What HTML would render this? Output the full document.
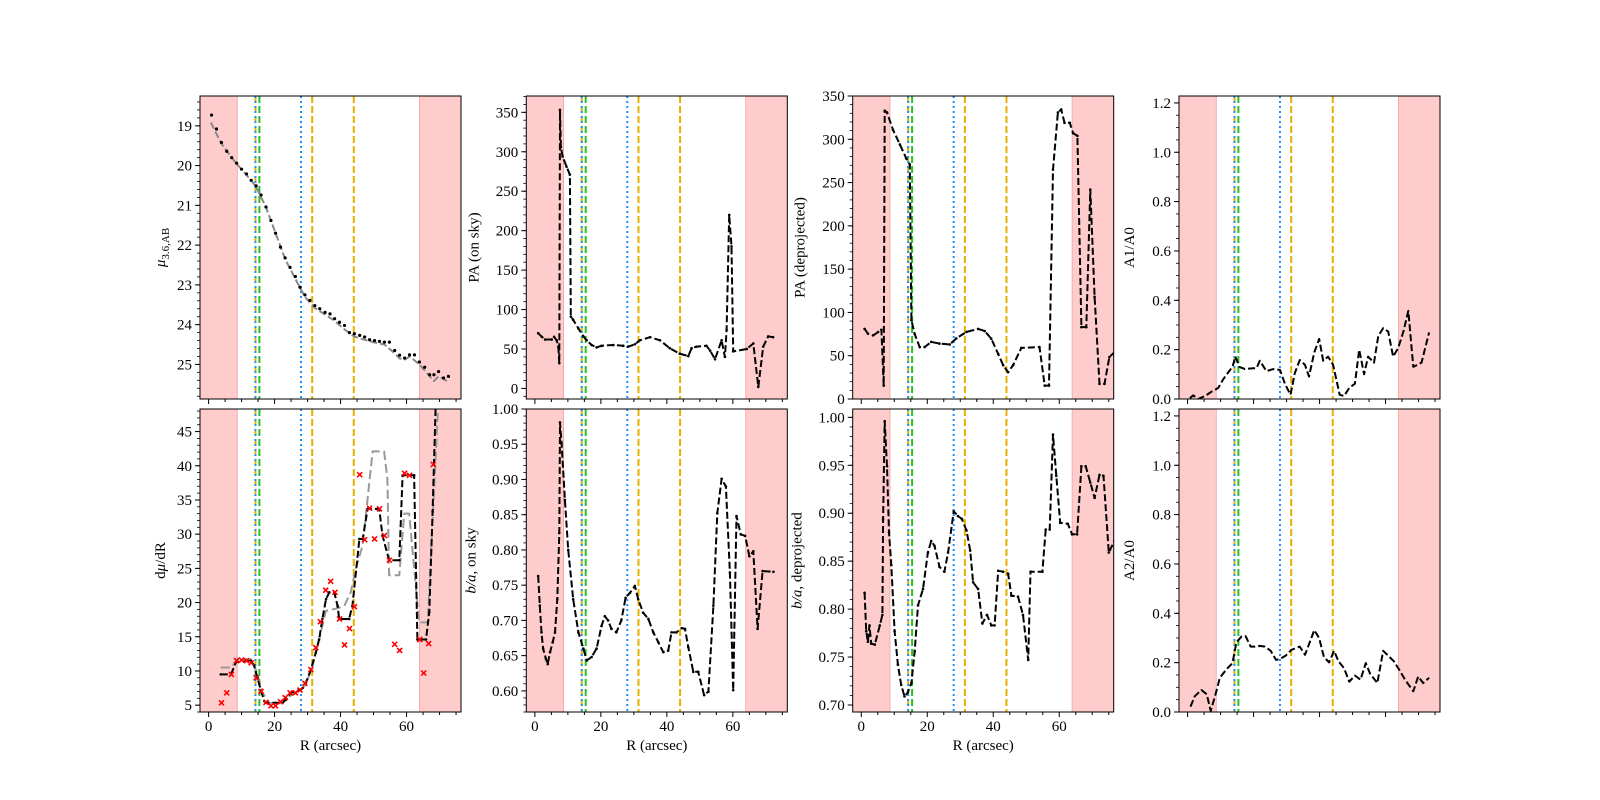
<!DOCTYPE html>
<html><head><meta charset="utf-8"><style>
html,body{margin:0;padding:0;background:#fff;}
svg{display:block;font-family:"Liberation Serif","DejaVu Serif",serif;}
</style></head><body>
<svg id="fig" width="1600" height="800" viewBox="0 0 1600 800" xmlns="http://www.w3.org/2000/svg"></svg>
<script>
// ---- data (R in arcsec) ----
const muDotR=[0.9,2.4,3.9,5.5,7.0,8.5,10.0,11.5,12.9,14.4,15.9,17.4,18.9,20.3,21.8,23.2,24.7,26.3,27.7,29.2,30.7,32.2,33.7,35.3,36.8,38.2,39.7,41.2,42.7,44.2,45.8,47.3,48.8,50.3,51.8,53.3,54.8,56.4,57.9,59.4,60.9,62.4,63.9,65.5,67.0,68.3,69.7,71.2,72.7];
const muDotV=[18.73,19.08,19.42,19.64,19.8,19.94,20.09,20.21,20.37,20.51,20.74,21.04,21.38,21.7,22.05,22.32,22.56,22.79,23.06,23.25,23.39,23.52,23.6,23.69,23.73,23.85,23.94,24.02,24.2,24.23,24.27,24.31,24.38,24.4,24.42,24.44,24.44,24.65,24.77,24.84,24.76,24.76,24.94,25.07,25.26,25.26,25.18,25.34,25.3];
const muFitR=[0.7,3.9,7.0,10.0,13.0,14.5,17.4,20.3,23.2,26.3,29.2,32.2,35.3,38.2,41.2,44.2,47.3,50.3,53.3,56.4,57.9,59.4,61.0,63.9,67.0,68.3,69.7,72.9];
const muFitV=[18.92,19.45,19.8,20.1,20.38,20.55,21.05,21.7,22.35,22.85,23.3,23.58,23.75,23.9,24.12,24.3,24.38,24.45,24.5,24.72,24.85,24.88,24.8,25.0,25.3,25.42,25.3,25.45];

const dmuR=[3.7,6.8,8.3,12.8,13.8,14.8,15.9,16.9,17.4,22.4,23.4,24.9,27.5,28.5,29.5,31.0,32.5,33.5,34.5,35.6,36.6,38.1,39.1,39.6,42.6,43.6,45.7,46.7,48.2,51.7,52.7,54.7,57.8,58.8,62.3,63.3,65.9,66.9,67.9,68.9];
const dmuV=[9.5,9.5,11.3,11.5,10.8,9.0,7.1,5.6,5.35,5.35,5.8,6.8,7.2,7.5,8.3,10.2,12.7,14.6,17.6,20.5,21.5,21.5,19.5,17.6,17.6,19.5,29.3,29.3,33.7,33.7,29.8,26.2,26.2,38.6,38.6,14.6,14.6,18.6,33.3,50];
const dmuFitR=[3.7,6.8,8.8,12.8,14.3,16.4,18.4,22.4,24.4,27.5,29.5,31.5,34.5,35.6,38.6,41.1,43.1,44.6,46.7,49.7,53.2,54.2,54.7,57.8,59.3,60.8,63.8,66.4,69.9];
const dmuFitV=[10.5,10.5,11.7,11.7,10.2,6.8,5.3,5.3,6.3,7.0,8.0,10.7,16.6,18.8,19.1,19.5,21.5,24.9,28.4,42.1,42.1,38.1,24.0,24.0,33.0,33.0,17.1,17.1,52];
const dmuPtR=[3.9,5.5,6.9,8.5,10.0,11.5,12.9,14.4,15.9,17.4,18.9,20.3,21.8,23.2,24.7,26.3,27.7,29.2,31.0,32.5,33.9,35.5,37.0,38.3,39.7,41.2,42.7,44.2,45.8,47.3,48.8,50.3,51.8,53.3,54.8,56.4,57.9,59.4,60.9,64.0,65.2,66.7,68.1];
const dmuPtV=[5.35,6.8,9.5,11.5,11.6,11.5,11.2,9.0,7.0,5.4,4.9,4.9,5.5,6.1,6.8,6.8,7.2,8.2,10.2,13.4,17.2,21.8,23.1,21.5,17.6,13.8,16.2,19.4,38.7,29.2,33.8,29.3,33.7,29.8,26.2,13.9,13.0,38.9,38.6,14.6,9.7,14.0,40.2];

const paSkyR=[1.0,2.1,3.1,5.1,5.8,6.6,7.1,7.4,7.6,7.9,8.4,9.6,10.6,10.9,11.6,13.2,14.7,15.7,17.2,18.7,20.2,23.8,26.8,28.3,30.3,31.8,34.9,37.9,40.9,43.9,46.5,47.5,49.0,52.0,53.1,54.6,56.6,57.6,58.1,58.9,59.6,60.1,64.2,66.2,67.7,69.2,70.7,72.2];
const paSkyV=[70,65.5,62,62,65.5,61,53,32,353,306,294,281,271,91,87,76,66,61,55,52,54,55,54,53,56,61,65,61,51,44,41,51,53,54,48,37,61,40,74,220,180,47,50,57,2,53,66,65];

const baSkyR=[1.0,1.5,2.0,2.5,3.3,3.9,4.6,5.4,6.1,6.8,7.4,7.6,8.1,9.1,10.1,11.6,13.2,14.7,15.7,17.2,18.7,20.2,21.2,22.2,23.2,24.7,26.2,27.5,28.8,30.3,31.3,32.8,34.4,35.9,37.4,38.9,40.4,41.4,42.9,44.5,45.5,46.5,48.0,49.5,51.3,52.6,54.1,55.3,56.6,57.9,59.1,60.1,61.1,62.4,63.7,65.0,66.2,67.5,69.0,72.3];
const baSkyV=[0.763,0.721,0.683,0.660,0.646,0.638,0.655,0.669,0.683,0.730,0.824,0.981,0.951,0.871,0.800,0.730,0.683,0.660,0.643,0.648,0.660,0.692,0.706,0.700,0.688,0.683,0.700,0.732,0.739,0.749,0.730,0.711,0.702,0.683,0.669,0.655,0.657,0.683,0.683,0.689,0.688,0.662,0.627,0.627,0.594,0.599,0.721,0.852,0.901,0.890,0.768,0.601,0.848,0.822,0.820,0.791,0.798,0.688,0.770,0.769];

const paDepR=[1.0,2.0,3.6,5.1,6.1,6.8,7.1,7.8,9.6,11.7,13.6,14.7,15.2,16.2,17.7,19.2,21.2,23.7,26.8,28.8,31.9,35.4,37.4,39.4,41.5,43.0,44.5,46.0,48.5,54.0,55.6,56.9,58.1,59.6,60.6,61.6,63.2,64.2,65.5,66.7,68.2,69.4,70.7,72.2,73.7,75.2,76.7];
const paDepV=[81,75.5,73.5,77.4,80,15.5,333,331,311,294,278,271,91,75,60,60,66,64,63,70,77.5,81,78.5,69.6,52,39,31,39,59,60,15.5,15.5,265,331,334.5,319,319,307,304,83,83,242,118,17.5,17.5,48.5,54];

const baDepR=[1.0,1.5,2.0,2.5,3.0,4.1,5.6,6.4,6.6,7.1,7.8,8.4,9.1,10.1,11.1,12.1,13.1,14.1,15.2,16.2,17.2,18.7,20.2,21.2,22.2,23.7,25.2,26.3,28.0,29.3,30.5,31.9,33.0,33.9,35.4,36.7,38.1,39.4,40.4,41.5,43.0,44.5,45.5,47.5,49.0,50.6,51.3,54.9,55.9,57.1,58.1,59.1,60.3,62.6,63.9,65.4,66.7,68.0,69.4,70.7,72.2,73.4,75.0,76.7];
const baDepV=[0.817,0.777,0.766,0.783,0.764,0.763,0.783,0.794,0.894,0.996,0.949,0.880,0.846,0.777,0.742,0.721,0.709,0.713,0.723,0.756,0.804,0.821,0.859,0.871,0.866,0.844,0.839,0.859,0.902,0.897,0.894,0.882,0.861,0.828,0.821,0.785,0.794,0.783,0.783,0.840,0.839,0.837,0.814,0.813,0.794,0.747,0.839,0.839,0.883,0.883,0.982,0.939,0.890,0.889,0.878,0.878,0.949,0.949,0.932,0.916,0.940,0.939,0.859,0.871];

const a1R=[0.7,1.7,3.2,5.3,7.3,9.3,10.8,12.3,13.6,14.5,15.7,17.4,19.9,20.9,21.9,23.9,26.0,28.0,29.5,31.2,32.5,34.0,35.6,36.8,38.4,39.9,41.1,42.6,44.1,46.1,47.4,49.0,50.7,52.0,53.5,54.7,56.5,57.8,59.3,60.8,62.3,63.8,65.4,66.9,68.4,70.9,73.2];
const a1V=[0.003,0.015,0,0.012,0.03,0.045,0.08,0.108,0.13,0.172,0.13,0.121,0.125,0.125,0.155,0.113,0.121,0.118,0.062,0.017,0.105,0.158,0.138,0.091,0.189,0.243,0.155,0.172,0.138,0.017,0.012,0.045,0.062,0.2,0.1,0.172,0.147,0.256,0.287,0.273,0.172,0.206,0.273,0.357,0.13,0.147,0.27];

const a2R=[0.9,2.2,4.2,5.8,7.0,8.3,9.8,11.8,13.6,14.8,16.4,17.6,19.1,20.4,21.9,23.4,25.2,26.8,28.0,29.7,31.5,34.0,35.6,38.4,39.9,41.3,42.9,44.4,45.7,47.4,49.0,50.7,52.4,54.0,55.3,57.5,59.3,60.8,62.5,64.3,65.9,68.4,69.9,71.4,73.2];
const a2V=[0.022,0.064,0.089,0.072,0.005,0.064,0.139,0.173,0.198,0.282,0.307,0.307,0.265,0.265,0.268,0.265,0.248,0.211,0.215,0.228,0.252,0.265,0.232,0.332,0.299,0.223,0.201,0.248,0.206,0.178,0.123,0.148,0.131,0.198,0.156,0.117,0.248,0.228,0.206,0.168,0.131,0.084,0.144,0.117,0.139];

const bandsR=[[-5,8.7],[63.9,80]];
const lineOrangeR=[14.2,31.4,44.0];
const lineBlueR=[14.2,28.0];
const lineGreenR=[15.4];
const xTicks=[0,20,40,60];

// ---- layout ----
const NS="http://www.w3.org/2000/svg";
const svg=document.getElementById('fig');
const colLeft=[200,526.3,852.7,1179], W=261;
const rowTop=[96,409], H=303;
const XMIN=-2.6, XMAX=76.5;
function el(tag,attrs,parent){const e=document.createElementNS(NS,tag);for(const k in attrs)e.setAttribute(k,attrs[k]);(parent||svg).appendChild(e);return e;}

const panels=[
 {c:0,r:0,name:'surface-brightness',ylim:[18.25,25.87],inv:true,ticks:[19,20,21,22,23,24,25],minor:0.2,fmt:v=>String(v),lab:'mu',loff:-35},
 {c:0,r:1,name:'dmu-dr',ylim:[4.0,48.3],ticks:[5,10,15,20,25,30,35,40,45],minor:1,fmt:v=>String(v),lab:'dμ/dR',loff:-35},
 {c:1,r:0,name:'pa-on-sky',ylim:[-13.4,370.7],ticks:[0,50,100,150,200,250,300,350],minor:10,fmt:v=>String(v),lab:'PA (on sky)',loff:-48},
 {c:1,r:1,name:'ba-on-sky',ylim:[0.570,1.0],ticks:[0.6,0.65,0.7,0.75,0.8,0.85,0.9,0.95,1.0],minor:0.01,fmt:v=>v.toFixed(2),lab:'ba-sky',loff:-51},
 {c:2,r:0,name:'pa-deprojected',ylim:[0,350],ticks:[0,50,100,150,200,250,300,350],minor:10,fmt:v=>String(v),lab:'PA (deprojected)',loff:-48},
 {c:2,r:1,name:'ba-deprojected',ylim:[0.6927,1.0087],ticks:[0.7,0.75,0.8,0.85,0.9,0.95,1.0],minor:0.01,fmt:v=>v.toFixed(2),lab:'ba-dep',loff:-51},
 {c:3,r:0,name:'a1-a0',ylim:[0,1.228],ticks:[0,0.2,0.4,0.6,0.8,1.0,1.2],minor:0.05,fmt:v=>v.toFixed(1),lab:'A1/A0',loff:-45},
 {c:3,r:1,name:'a2-a0',ylim:[0,1.228],ticks:[0,0.2,0.4,0.6,0.8,1.0,1.2],minor:0.05,fmt:v=>v.toFixed(1),lab:'A2/A0',loff:-45},
];

panels.forEach((p,i)=>{
  const L=colLeft[p.c], T=rowTop[p.r];
  p.x=R=>L+(R-XMIN)/(XMAX-XMIN)*W;
  p.y=v=>{const f=(v-p.ylim[0])/(p.ylim[1]-p.ylim[0]);return p.inv?T+f*H:T+H-f*H;};
  const g=el('g',{});
  
  
  const cp=el('clipPath',{id:'cp'+i},g);
  el('rect',{x:L,y:T,width:W,height:H},cp);
  const plot=el('g',{'clip-path':'url(#cp'+i+')'},g);
  
  
  bandsR.forEach(b=>{
    const r=el('rect',{x:p.x(b[0]),y:T,width:p.x(b[1])-p.x(b[0]),height:H,fill:'#ffcccc',stroke:'#f4a0a0','stroke-width':0.8},plot);
    
    
  });
  lineOrangeR.forEach(R=>{const l=el('line',{x1:p.x(R),x2:p.x(R),y1:T,y2:T+H,stroke:'#e6b000','stroke-width':2,'stroke-dasharray':'7,3'},plot);
    
    });
  lineBlueR.forEach(R=>{const l=el('line',{x1:p.x(R),x2:p.x(R),y1:T,y2:T+H,stroke:'#1e8fff','stroke-width':2,'stroke-dasharray':'2,3'},plot);
    
    });
  lineGreenR.forEach(R=>{const l=el('line',{x1:p.x(R),x2:p.x(R),y1:T,y2:T+H,stroke:'#22c322','stroke-width':2,'stroke-dasharray':'7,3'},plot);
    
    });
  p.plot=plot;
  const fr=el('rect',{x:L,y:T,width:W,height:H,fill:'none',stroke:'#000','stroke-width':1},g);
  
  
  for(let R=0;R<=75;R+=5){
    const xx=p.x(R), maj=R%20===0;
    el('line',{x1:xx,x2:xx,y1:T+H,y2:T+H+(maj?5:3),stroke:'#000','stroke-width':1},g);
    if(maj&&p.r===1&&p.c<3){
      const t=el('text',{x:xx,y:T+H+19,'text-anchor':'middle','font-size':15},g);t.textContent=R;
      
      
    }
  }
  const lo=Math.min(p.ylim[0],p.ylim[1]),hi=Math.max(p.ylim[0],p.ylim[1]);
  for(let k=Math.ceil(lo/p.minor-1e-6);k*p.minor<=hi+1e-9;k++){
    const yy=p.y(k*p.minor);
    el('line',{x1:L,x2:L-3,y1:yy,y2:yy,stroke:'#000','stroke-width':0.8},g);
  }
  p.ticks.forEach(v=>{
    const yy=p.y(v);
    el('line',{x1:L,x2:L-5,y1:yy,y2:yy,stroke:'#000','stroke-width':1},g);
    const t=el('text',{x:L-8,y:yy+5,'text-anchor':'end','font-size':15},g);t.textContent=p.fmt(v);
    
    
  });
  const lx=L+p.loff, ly=T+H/2;
  const yl=el('text',{x:lx,y:ly,'text-anchor':'middle','font-size':15,transform:`rotate(-90 ${lx} ${ly})`},g);
  
  
  if(p.lab==='mu'){
    const a=el('tspan',{'font-style':'italic'},yl);a.textContent='μ';
    const b=el('tspan',{'font-size':11,dy:4},yl);b.textContent='3.6,AB';
  } else if(p.lab==='ba-sky'||p.lab==='ba-dep'){
    const a=el('tspan',{'font-style':'italic'},yl);a.textContent='b/a';
    const b=el('tspan',{},yl);b.textContent=p.lab==='ba-sky'?', on sky':', deprojected';
  } else if(p.lab==='dμ/dR'){
    const a=el('tspan',{},yl);a.textContent='d';
    const b=el('tspan',{'font-style':'italic'},yl);b.textContent='μ';
    const c=el('tspan',{},yl);c.textContent='/dR';
  } else yl.textContent=p.lab;
  if(p.r===1&&p.c<3){
    const xl=el('text',{x:L+W/2,y:750,'text-anchor':'middle','font-size':15},g);xl.textContent='R (arcsec)';
    
    
  }
});

function path(p,R,V,stroke,dash,w){
  const d=R.map((r,i)=>(i?'L':'M')+p.x(r).toFixed(1)+','+p.y(V[i]).toFixed(1)).join('');
  const e=el('path',{d:d,fill:'none',stroke:stroke,'stroke-width':w||2,'stroke-dasharray':dash||'none','stroke-linejoin':'round'},p.plot);
  return e;
}
function dots(p,R,V,r,fill){
  const g=el('g',{},p.plot);
  R.forEach((x,i)=>{const c=el('circle',{cx:p.x(x),cy:p.y(V[i]),r:r,fill:fill},g);
    
    });
  return g;
}
function series(pi,R,V,name,withDots){
  const s=path(panels[pi],R,V,'#000','7,3',2);
  
  
  if(withDots){const g=dots(panels[pi],R,V,1.3,'#000');}
}
let s=path(panels[0],muFitR,muFitV,'#888','7,3',2);


let dg=dots(panels[0],muDotR,muDotV,1.6,'#000');


s=path(panels[1],dmuFitR,dmuFitV,'#999','9,4',2);


series(1,dmuR,dmuV,'dmu-dr-curve',true);
const xg=el('g',{},panels[1].plot);


dmuPtR.forEach((r,i)=>{
  const X=panels[1].x(r),Y=panels[1].y(dmuPtV[i]);
  const m=el('path',{d:`M${X-2.5},${Y-2.5}L${X+2.5},${Y+2.5}M${X-2.5},${Y+2.5}L${X+2.5},${Y-2.5}`,stroke:'#ff0000','stroke-width':1.6},xg);
  
  
});
series(2,paSkyR,paSkyV,'pa-on-sky-curve',true);
series(3,baSkyR,baSkyV,'ba-on-sky-curve',true);
series(4,paDepR,paDepV,'pa-deprojected-curve',true);
series(5,baDepR,baDepV,'ba-deprojected-curve',true);
series(6,a1R,a1V,'a1-a0-curve',false);
series(7,a2R,a2V,'a2-a0-curve',false);
</script>
</body></html>
